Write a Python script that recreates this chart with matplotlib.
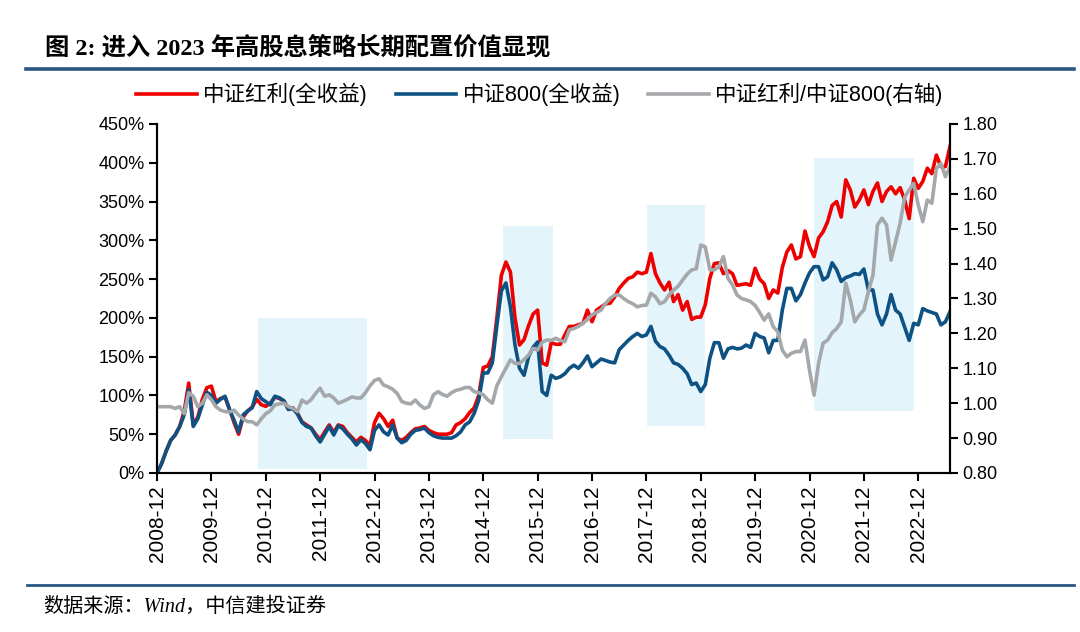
import numpy as np
import matplotlib
matplotlib.use("Agg")
import matplotlib.pyplot as plt
from matplotlib.lines import Line2D
from matplotlib.patches import Rectangle
from matplotlib.ticker import FuncFormatter, MultipleLocator

plt.rcParams['font.family'] = ['Liberation Sans', 'Noto Sans CJK SC']

# --- data: month index 0 = 2008-12, monthly to 2023-07 ---
years = list(range(2008, 2023))
tick_labels = [f"{y}-12" for y in years]

csi_div = [0, 12, 28, 42, 49, 60, 80, 116, 62, 72, 95, 110, 112, 92, 96, 98, 82, 65, 50, 72,
           80, 85, 95, 88, 86, 90, 98, 96, 93, 82, 84, 77, 66, 62, 58, 50, 43, 53, 62, 52,
           62, 60, 52, 46, 40, 46, 42, 35, 65, 77, 70, 60, 68, 45, 42, 46, 52, 57, 58, 60,
           55, 52, 50, 50, 50, 52, 62, 65, 70, 78, 84, 100, 136, 138, 150, 200, 255, 272, 259, 200,
           165, 172, 190, 205, 210, 142, 139, 168, 166, 166, 178, 189, 189, 191, 193, 210, 195, 210, 214, 218,
           219, 227, 238, 245, 251, 253, 259, 257, 259, 283, 257, 245, 236, 246, 221, 230, 210, 221, 198, 201,
           201, 217, 251, 270, 271, 257, 261, 257, 242, 243, 244, 242, 264, 250, 244, 225, 236, 232, 265, 285,
           294, 276, 279, 312, 292, 279, 303, 311, 324, 345, 350, 330, 378, 365, 343, 352, 365, 346, 363, 374,
           350, 363, 369, 360, 368, 352, 328, 380, 367, 376, 393, 386, 410, 395, 395, 421]

csi_800 = [0, 12, 28, 42, 49, 60, 75, 108, 60, 70, 88, 104, 100, 90, 95, 99, 82, 68, 53, 75,
           80, 84, 105, 96, 92, 88, 99, 97, 93, 82, 83, 76, 65, 60, 58, 48, 40, 50, 60, 49,
           61, 57, 50, 44, 36, 43, 38, 30, 55, 62, 53, 49, 62, 45, 39, 42, 50, 55, 56, 58,
           52, 48, 46, 45, 45, 45, 48, 53, 62, 66, 77, 94, 129, 129, 142, 190, 235, 245, 214, 165,
           135, 126, 150, 162, 169, 105, 100, 126, 122, 124, 128, 135, 139, 135, 142, 151, 137, 142, 147, 145,
           143, 142, 159, 165, 171, 176, 180, 176, 178, 189, 170, 163, 160, 152, 142, 140, 135, 128, 114, 116,
           105, 114, 148, 168, 168, 148, 160, 162, 160, 161, 165, 162, 180, 176, 174, 155, 171, 171, 210, 238,
           238, 222, 230, 245, 258, 266, 266, 249, 253, 271, 262, 247, 252, 254, 257, 256, 263, 236, 236, 205,
           191, 205, 230, 210, 205, 188, 171, 193, 191, 212, 209, 207, 205, 191, 195, 208]

ratio = [0.99, 0.99, 0.99, 0.99, 0.985, 0.99, 0.97, 1.03, 1.02, 0.99, 1.0, 1.024, 1.01, 0.99, 0.98, 0.976,
         0.975, 0.98, 0.966, 0.955, 0.947, 0.947, 0.938, 0.955, 0.97, 0.978, 0.995, 0.998, 1.0, 0.99, 0.985,
         0.976, 1.009, 1.0, 1.01, 1.028, 1.043, 1.02, 1.024, 1.015, 1.0, 1.005, 1.011, 1.018, 1.015, 1.015,
         1.03, 1.05, 1.065, 1.07, 1.052, 1.047, 1.04, 1.028, 1.005, 1.0, 0.998, 1.009, 0.995, 0.985, 0.99,
         1.024, 1.033, 1.025, 1.02, 1.03, 1.037, 1.04, 1.045, 1.045, 1.033, 1.03, 1.024, 1.01, 1.0, 1.05,
         1.076, 1.10, 1.124, 1.114, 1.114, 1.125, 1.138, 1.157, 1.152, 1.175, 1.181, 1.18, 1.186, 1.18, 1.176,
         1.21, 1.214, 1.22, 1.229, 1.24, 1.253, 1.26, 1.267, 1.286, 1.30, 1.31, 1.31, 1.30, 1.291, 1.285,
         1.276, 1.28, 1.281, 1.315, 1.305, 1.285, 1.291, 1.31, 1.324, 1.335, 1.353, 1.37, 1.382, 1.385, 1.453,
         1.448, 1.382, 1.382, 1.391, 1.42, 1.358, 1.339, 1.31, 1.30, 1.296, 1.291, 1.28, 1.26, 1.238, 1.256,
         1.219, 1.205, 1.152, 1.133, 1.143, 1.148, 1.148, 1.181, 1.095, 1.023, 1.114, 1.172, 1.181, 1.202,
         1.214, 1.233, 1.344, 1.296, 1.233, 1.253, 1.267, 1.32, 1.367, 1.511, 1.53, 1.511, 1.41, 1.463, 1.516,
         1.59, 1.611, 1.63, 1.568, 1.52, 1.582, 1.573, 1.673, 1.687, 1.649, 1.677]

# shaded periods: (start month, end month, low %, high %)
periods = [(22.2, 46.3, 5, 200), (76.3, 87.4, 44, 318), (108.1, 120.9, 61, 346), (145.0, 167.0, 80, 406)]

x = np.arange(len(csi_800))

fig = plt.figure(figsize=(10.8, 6.32), dpi=100)
ax = fig.add_axes([0.1454, 0.2516, 0.7342, 0.5522])
ax2 = ax.twinx()

for s, e, lo, hi in periods:
    ax.add_patch(Rectangle((s, lo), e - s, hi - lo, facecolor='#e3f4fb', edgecolor='none', zorder=0))

l1, = ax.plot(x, csi_div, color='#ee0000', lw=2.6, label='中证红利(全收益)', zorder=3)
l2, = ax.plot(x, csi_800, color='#0d5282', lw=2.6, label='中证800(全收益)', zorder=3)
l3, = ax2.plot(x, ratio, color='#a5a8ab', lw=2.6, label='中证红利/中证800(右轴)')

ax.set_xlim(0, len(x) - 1)
ax.set_ylim(0, 450)
ax2.set_ylim(0.8, 1.8)
ax.yaxis.set_major_locator(MultipleLocator(50))
ax.yaxis.set_major_formatter(FuncFormatter(lambda v, p: f"{v:.0f}%"))
ax2.yaxis.set_major_locator(MultipleLocator(0.1))
ax2.yaxis.set_major_formatter(FuncFormatter(lambda v, p: f"{v:.2f}"))
ax.set_xticks(np.arange(len(years)) * 12)
ax.set_xticklabels(tick_labels, rotation=90)

for a in (ax, ax2):
    a.spines['top'].set_visible(False)
    for sp in ('left', 'right', 'bottom'):
        a.spines[sp].set_linewidth(1.5)
    a.tick_params(direction='out', length=6, width=1.5, labelsize=13, pad=3)
ax.tick_params(axis='x', labelsize=15)

fig.legend(handles=[l1, l2, l3], loc='center', bbox_to_anchor=(0.50, 0.85), ncol=3,
           frameon=False, fontsize=15.5, handlelength=2.8, columnspacing=1.3, handletextpad=0.3)

fig.text(0.042, 0.925, '图 2: 进入 2023 年高股息策略长期配置价值显现', fontsize=17.5, fontweight='bold',
         family=['Liberation Serif', 'Noto Sans CJK SC'], va='center')
fig.add_artist(Line2D([0.024, 0.994], [0.891, 0.891], color='#2b5582', lw=2.6))
fig.add_artist(Line2D([0.025, 0.994], [0.074, 0.074], color='#2b5582', lw=2.0))
fig.text(0.040, 0.039, '数据来源：Wind，中信建投证券', fontsize=14.5, style='italic',
         family=['Liberation Serif', 'Noto Sans CJK SC'], va='center')

fig.savefig('out.png', dpi=100, facecolor='white')
